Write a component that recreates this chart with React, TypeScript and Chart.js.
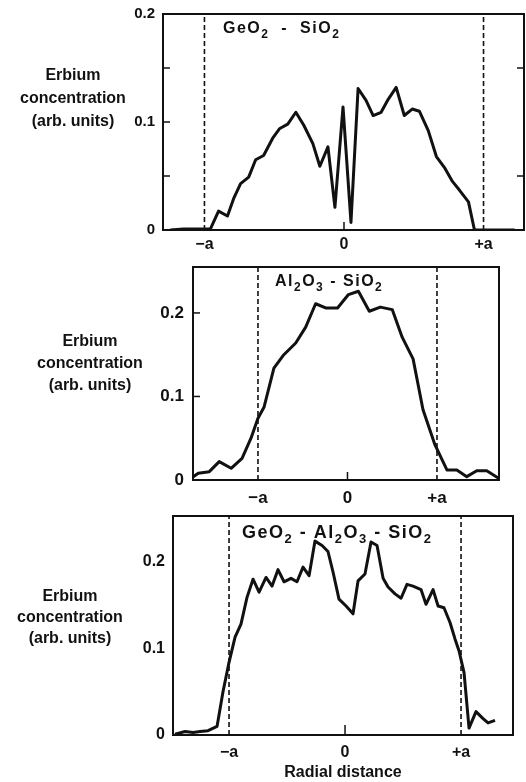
import React, { useEffect, useRef } from "react";
import { Chart, registerables } from "chart.js";

Chart.register(...registerables);

const FONT = "'Liberation Sans', Arial, Helvetica, sans-serif";
const INK = "#111111";

// ---- Data (x in units of the core radius a, y in arb. units) ----
const geX = [-1.245, -1.15, -1.05, -0.957, -0.899, -0.835, -0.791, -0.741, -0.683, -0.633, -0.576, -0.511, -0.46, -0.403, -0.345, -0.288, -0.223, -0.173, -0.115, -0.065, -0.007, 0.05, 0.101, 0.158, 0.209, 0.266, 0.317, 0.374, 0.432, 0.489, 0.54, 0.604, 0.662, 0.719, 0.777, 0.827, 0.892, 0.935, 1.02, 1.12, 1.223];
const geY = [0, 0.001, 0.001, 0.001, 0.0175, 0.013, 0.029, 0.043, 0.049, 0.065, 0.069, 0.085, 0.094, 0.098, 0.109, 0.097, 0.08, 0.059, 0.077, 0.021, 0.114, 0.007, 0.131, 0.12, 0.106, 0.109, 0.121, 0.132, 0.106, 0.112, 0.11, 0.092, 0.068, 0.058, 0.045, 0.037, 0.026, 0, 0, 0, 0];

const alX = [-1.722, -1.667, -1.544, -1.433, -1.3, -1.178, -1.078, -1.0, -0.933, -0.822, -0.711, -0.578, -0.467, -0.356, -0.244, -0.111, 0.011, 0.122, 0.244, 0.367, 0.5, 0.611, 0.733, 0.844, 0.978, 1.111, 1.222, 1.333, 1.444, 1.556, 1.689];
const alY = [0.004, 0.008, 0.01, 0.022, 0.014, 0.026, 0.05, 0.074, 0.087, 0.134, 0.15, 0.164, 0.183, 0.211, 0.206, 0.206, 0.222, 0.226, 0.202, 0.207, 0.204, 0.171, 0.145, 0.084, 0.042, 0.012, 0.012, 0.004, 0.011, 0.011, 0.002];

const gaX = [-1.466, -1.379, -1.31, -1.25, -1.181, -1.103, -1.052, -1.0, -0.948, -0.897, -0.845, -0.793, -0.741, -0.681, -0.629, -0.578, -0.526, -0.466, -0.414, -0.362, -0.31, -0.259, -0.198, -0.147, -0.103, -0.052, 0.009, 0.069, 0.112, 0.172, 0.224, 0.276, 0.328, 0.371, 0.431, 0.483, 0.534, 0.586, 0.655, 0.698, 0.759, 0.802, 0.853, 0.905, 0.948, 0.983, 1.026, 1.069, 1.129, 1.19, 1.233, 1.293];
const gaY = [0.001, 0.004, 0.003, 0.004, 0.005, 0.01, 0.05, 0.084, 0.113, 0.128, 0.159, 0.18, 0.165, 0.182, 0.172, 0.191, 0.177, 0.181, 0.177, 0.194, 0.184, 0.224, 0.219, 0.212, 0.188, 0.157, 0.149, 0.14, 0.178, 0.186, 0.223, 0.219, 0.181, 0.171, 0.163, 0.158, 0.174, 0.172, 0.168, 0.151, 0.168, 0.149, 0.147, 0.13, 0.111, 0.097, 0.072, 0.008, 0.027, 0.019, 0.014, 0.017];

const coreEdges = [-1, 1];
const xTickValues = [-1, 0, 1];
const xTickLabels = ["\u2212a", "0", "+a"];
const yTickValues = [0, 0.1, 0.2];
const yTickLabels = ["0", "0.1", "0.2"];
const yTitleLines = ["Erbium", "concentration", "(arb. units)"];
const xTitle = "Radial distance";

// [text, isSubscript]
const title1: [string, boolean][] = [["GeO", false], ["2", true], ["  -  SiO", false], ["2", true]];
const title2: [string, boolean][] = [["Al", false], ["2", true], ["O", false], ["3", true], [" - SiO", false], ["2", true]];
const title3: [string, boolean][] = [["GeO", false], ["2", true], [" - Al", false], ["2", true], ["O", false], ["3", true], [" - SiO", false], ["2", true]];

const W = 526;

type Panel = {
  xs: number[];
  ys: number[];
  title: [string, boolean][];
  top: number;
  height: number;
  area: { left: number; right: number; top: number; bottom: number };
  xMin: number;
  xMax: number;
  yMax: number;
  yTickSize: number;
  yTickPad: number;
  xTickSize: number;
  xTickPad: number;
  titleX: number;
  titleY: number;
  titleSize: number;
  subSize: number;
  subDrop: number;
  yTitleX: number;
  yTitleY: number[];
  leftTicks: number[];
  rightTicks: number[];
  zeroTick: number;
  showXTitle: boolean;
};

const panels: Panel[] = [
  {
    xs: geX, ys: geY, title: title1,
    top: 0, height: 255,
    area: { left: 163, right: 524, top: 14, bottom: 230 },
    xMin: -1.297, xMax: 1.29, yMax: 0.2,
    yTickSize: 15, yTickPad: 8, xTickSize: 16, xTickPad: 5,
    titleX: 223, titleY: 33, titleSize: 16, subSize: 12, subDrop: 5,
    yTitleX: 73, yTitleY: [80, 103, 126],
    leftTicks: [0.05, 0.1, 0.15], rightTicks: [0.05, 0.15], zeroTick: 8,
    showXTitle: false,
  },
  {
    xs: alX, ys: alY, title: title2,
    top: 255, height: 255,
    area: { left: 193, right: 499, top: 12, bottom: 225 },
    xMin: -1.726, xMax: 1.693, yMax: 0.255,
    yTickSize: 17, yTickPad: 9, xTickSize: 17, xTickPad: 8,
    titleX: 275, titleY: 31, titleSize: 16, subSize: 12, subDrop: 5,
    yTitleX: 90, yTitleY: [91, 113, 135],
    leftTicks: [0.1, 0.2], rightTicks: [], zeroTick: 8,
    showXTitle: false,
  },
  {
    xs: gaX, ys: gaY, title: title3,
    top: 510, height: 272,
    area: { left: 173, right: 513, top: 6, bottom: 225 },
    xMin: -1.483, xMax: 1.448, yMax: 0.253,
    yTickSize: 16, yTickPad: 8, xTickSize: 16, xTickPad: 8,
    titleX: 242, titleY: 28, titleSize: 18, subSize: 13, subDrop: 5,
    yTitleX: 70, yTitleY: [91, 112, 133],
    leftTicks: [], rightTicks: [], zeroTick: 10,
    showXTitle: true,
  },
];

function buildChart(canvas: HTMLCanvasElement, p: Panel) {
  const yAxisW = p.area.left;
  const xAxisH = p.height - p.area.bottom;

  const decor = {
    id: "decor",
    afterDraw(chart: any) {
      const { ctx, chartArea: a, scales } = chart;
      ctx.save();
      ctx.strokeStyle = INK;
      ctx.lineWidth = 2;
      ctx.strokeRect(a.left, a.top, a.right - a.left, a.bottom - a.top);
      ctx.lineWidth = 1.5;
      const seg = (x1: number, y1: number, x2: number, y2: number) => {
        ctx.beginPath();
        ctx.moveTo(x1, y1);
        ctx.lineTo(x2, y2);
        ctx.stroke();
      };
      for (const v of p.leftTicks) {
        const y = scales.y.getPixelForValue(v);
        seg(a.left, y, a.left + 7, y);
      }
      for (const v of p.rightTicks) {
        const y = scales.y.getPixelForValue(v);
        seg(a.right, y, a.right - 7, y);
      }
      const x0 = scales.x.getPixelForValue(0);
      seg(x0, a.bottom, x0, a.bottom - p.zeroTick);

      // panel title with subscripts
      ctx.fillStyle = INK;
      ctx.textAlign = "left";
      ctx.textBaseline = "alphabetic";
      let x = p.titleX;
      for (const [t, sub] of p.title) {
        ctx.font = `bold ${sub ? p.subSize : p.titleSize}px ${FONT}`;
        (ctx as any).letterSpacing = "1.5px";
        ctx.fillText(t, x, sub ? p.titleY + p.subDrop : p.titleY);
        x += ctx.measureText(t).width;
      }

      // horizontal y-axis title
      (ctx as any).letterSpacing = "0px";
      ctx.font = `bold 16px ${FONT}`;
      ctx.textAlign = "center";
      yTitleLines.forEach((line, i) => ctx.fillText(line, p.yTitleX, p.yTitleY[i]));
      ctx.restore();
    },
  };

  const zeroPad = (s: any) => {
    s.paddingLeft = 0;
    s.paddingRight = 0;
    s.paddingTop = 0;
    s.paddingBottom = 0;
  };

  const edgeSets = coreEdges.map((e) => ({
    data: [
      { x: e, y: 0 },
      { x: e, y: p.yMax },
    ],
    borderColor: INK,
    borderWidth: 1.6,
    borderDash: [5, 3],
    pointRadius: 0,
    fill: false,
  }));

  return new Chart(canvas, {
    type: "line",
    data: {
      datasets: [
        {
          data: p.xs.map((x, i) => ({ x, y: p.ys[i] })),
          borderColor: INK,
          borderWidth: 3,
          pointRadius: 0,
          tension: 0,
          fill: false,
          borderJoinStyle: "round",
        } as any,
        ...edgeSets,
      ],
    },
    options: {
      responsive: false,
      animation: false,
      layout: { padding: { left: 0, right: W - p.area.right, top: p.area.top, bottom: 0 } },
      plugins: {
        legend: { display: false },
        tooltip: { enabled: false },
        title: { display: false },
      },
      scales: {
        x: {
          type: "linear",
          min: p.xMin,
          max: p.xMax,
          grid: { display: false, drawTicks: false },
          border: { display: false },
          afterBuildTicks: (s: any) => {
            s.ticks = xTickValues.map((v) => ({ value: v }));
          },
          ticks: {
            autoSkip: false,
            maxRotation: 0,
            padding: p.xTickPad,
            color: INK,
            font: { family: FONT, size: p.xTickSize, weight: "bold" },
            callback: (v: any) => {
              const i = xTickValues.indexOf(Number(v));
              return i >= 0 ? xTickLabels[i] : "";
            },
          },
          title: {
            display: p.showXTitle,
            text: xTitle,
            color: INK,
            font: { family: FONT, size: 16, weight: "bold" },
            padding: { top: 0, bottom: 0 },
          },
          afterFit: (s: any) => {
            s.height = xAxisH;
            zeroPad(s);
          },
        },
        y: {
          type: "linear",
          min: 0,
          max: p.yMax,
          grid: { display: false, drawTicks: false },
          border: { display: false },
          afterBuildTicks: (s: any) => {
            s.ticks = yTickValues.filter((v) => v <= p.yMax + 1e-9).map((v) => ({ value: v }));
          },
          ticks: {
            autoSkip: false,
            padding: p.yTickPad,
            color: INK,
            font: { family: FONT, size: p.yTickSize, weight: "bold" },
            callback: (v: any) => {
              const i = yTickValues.indexOf(Number(v));
              return i >= 0 ? yTickLabels[i] : "";
            },
          },
          afterFit: (s: any) => {
            s.width = yAxisW;
            zeroPad(s);
          },
        },
      },
    } as any,
    plugins: [decor],
  });
}

function PanelChart({ p }: { p: Panel }) {
  const ref = useRef<HTMLCanvasElement | null>(null);
  useEffect(() => {
    if (!ref.current) return;
    const chart = buildChart(ref.current, p);
    return () => chart.destroy();
  }, [p]);
  return (
    <canvas
      ref={ref}
      width={W}
      height={p.height}
      style={{ position: "absolute", left: 0, top: p.top, display: "block" }}
    />
  );
}

export default function App() {
  return (
    <div
      style={{
        position: "absolute",
        left: 0,
        top: 0,
        width: W,
        height: 782,
        background: "#ffffff",
        overflow: "hidden",
      }}
    >
      {panels.map((p, i) => (
        <PanelChart key={i} p={p} />
      ))}
    </div>
  );
}
